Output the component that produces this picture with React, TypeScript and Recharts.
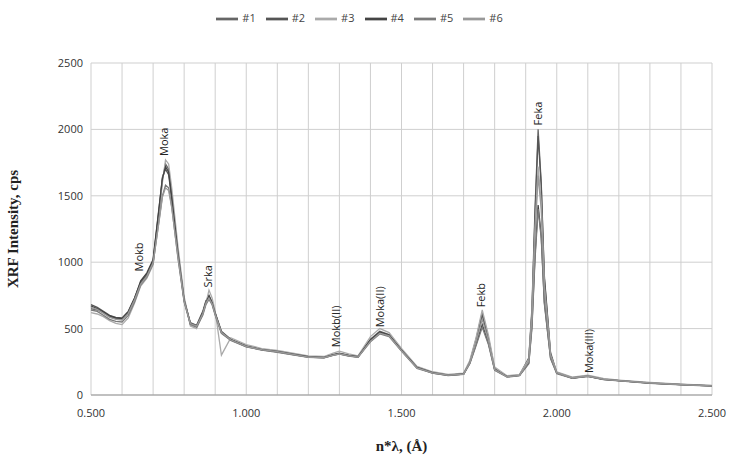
import { LineChart, Line, XAxis, YAxis, CartesianGrid, Legend, ReferenceDot, Label } from 'recharts';

const wavelength = [0.50, 0.52, 0.54, 0.56, 0.58, 0.60, 0.62, 0.64, 0.66, 0.68, 0.70, 0.72, 0.73, 0.74, 0.75, 0.76, 0.78, 0.80, 0.82, 0.84, 0.86, 0.87, 0.88, 0.89, 0.90, 0.92, 0.95, 1.00, 1.05, 1.10, 1.15, 1.20, 1.25, 1.28, 1.30, 1.33, 1.36, 1.40, 1.43, 1.46, 1.50, 1.55, 1.60, 1.65, 1.70, 1.72, 1.74, 1.76, 1.78, 1.80, 1.84, 1.88, 1.91, 1.92, 1.93, 1.94, 1.95, 1.96, 1.98, 2.00, 2.05, 2.10, 2.15, 2.20, 2.30, 2.40, 2.50];

const s1 = [650, 640, 620, 590, 575, 570, 620, 720, 840, 900, 1000, 1400, 1620, 1740, 1700, 1500, 1080, 720, 540, 520, 620, 700, 750, 700, 620, 480, 420, 370, 345, 330, 310, 290, 285, 305, 315, 300, 290, 420, 480, 455, 340, 210, 170, 150, 160, 250, 420, 620, 430, 200, 140, 150, 280, 650, 1400, 2000, 1600, 900, 320, 170, 130, 145, 120, 110, 92, 80, 70];
const s2 = [680, 660, 630, 600, 585, 580, 630, 730, 850, 910, 1010, 1420, 1640, 1700, 1660, 1480, 1060, 710, 545, 525, 630, 710, 740, 690, 610, 470, 415, 365, 340, 325, 305, 285, 280, 300, 310, 295, 285, 410, 470, 450, 335, 205, 165, 148, 158, 245, 410, 600, 420, 195, 138, 148, 270, 620, 1350, 1950, 1580, 880, 310, 165, 128, 140, 118, 108, 90, 78, 68];
const s3 = [620, 610, 590, 560, 540, 530, 580, 690, 820, 880, 980, 1380, 1600, 1770, 1740, 1560, 1120, 740, 520, 500, 610, 690, 790, 730, 630, 300, 430, 380, 350, 335, 315, 295, 290, 315, 330, 310, 295, 440, 500, 470, 350, 215, 175, 155, 165, 260, 430, 640, 450, 210, 145, 155, 270, 600, 1250, 1720, 1450, 820, 300, 175, 135, 150, 125, 112, 95, 82, 72];
const s4 = [670, 650, 625, 595, 580, 575, 625, 725, 860, 920, 1020, 1430, 1630, 1720, 1680, 1490, 1070, 715, 535, 515, 615, 695, 745, 695, 615, 475, 418, 368, 342, 328, 308, 288, 283, 302, 312, 298, 288, 415, 475, 452, 338, 208, 168, 150, 158, 240, 380, 530, 390, 190, 138, 148, 240, 520, 1050, 1430, 1200, 700, 280, 165, 128, 142, 118, 108, 90, 78, 68];
const s5 = [640, 630, 600, 570, 555, 550, 600, 700, 830, 890, 990, 1330, 1500, 1580, 1560, 1420, 1030, 700, 530, 510, 600, 680, 720, 680, 600, 465, 410, 362, 338, 322, 302, 283, 280, 298, 308, 293, 283, 400, 460, 440, 330, 200, 165, 147, 155, 235, 370, 510, 380, 185, 135, 145, 235, 500, 1020, 1400, 1180, 690, 275, 160, 125, 140, 116, 106, 88, 77, 67];
const s6 = [660, 645, 615, 585, 570, 565, 615, 715, 835, 895, 995, 1320, 1490, 1560, 1540, 1410, 1040, 705, 538, 518, 612, 690, 730, 688, 608, 472, 416, 366, 341, 326, 306, 286, 282, 300, 310, 296, 286, 405, 465, 445, 333, 204, 167, 149, 157, 242, 400, 570, 410, 192, 137, 147, 255, 580, 1200, 1650, 1400, 800, 300, 168, 130, 143, 119, 109, 91, 79, 69];

const seriesNames = ['#1', '#2', '#3', '#4', '#5', '#6'];
const seriesValues = [s1, s2, s3, s4, s5, s6];
const seriesColors = ['#666666', '#555555', '#aaaaaa', '#444444', '#7a7a7a', '#999999'];

const xTicks = [0.5, 0.6, 0.7, 0.8, 0.9, 1.0, 1.1, 1.2, 1.3, 1.4, 1.5, 1.6, 1.7, 1.8, 1.9, 2.0, 2.1, 2.2, 2.3, 2.4, 2.5];
const yTicks = [0, 500, 1000, 1500, 2000, 2500];

const peakLabels = [
  { name: 'Mokb', x: 0.655, y: 930 },
  { name: 'Moka', x: 0.735, y: 1800 },
  { name: 'Srka', x: 0.878, y: 810 },
  { name: 'Mokb(II)', x: 1.29, y: 360 },
  { name: 'Moka(II)', x: 1.43, y: 510 },
  { name: 'Fekb', x: 1.755, y: 660 },
  { name: 'Feka', x: 1.94, y: 2030 },
  { name: 'Moka(III)', x: 2.105, y: 165 },
];

const data = wavelength.map((x, i) => {
  const row: Record<string, number> = { x };
  seriesNames.forEach((n, k) => { row[n] = seriesValues[k][i]; });
  return row;
});

const VText = (props: any) => {
  const { viewBox, value } = props;
  const cx = viewBox.x + (viewBox.width || 0) / 2;
  const cy = viewBox.y + (viewBox.height || 0) / 2;
  return (
    <text x={cx + 4} y={cy} transform={`rotate(-90 ${cx + 4} ${cy})`} fontSize={11} fill="#222" fontFamily="Open Sans, sans-serif">
      {value}
    </text>
  );
};

export default function App() {
  return (
    <div style={{ position: 'absolute', left: 0, top: 0, background: '#fff' }}>
      <LineChart width={729} height={457} data={data} margin={{ top: 41, right: 17, bottom: 0, left: 31 }}>
        <CartesianGrid stroke="#cfcfcf" verticalValues={xTicks} horizontalValues={yTicks} />
        <XAxis
          dataKey="x"
          type="number"
          domain={[0.5, 2.5]}
          ticks={xTicks}
          interval={0}
          tickLine={false}
          axisLine={{ stroke: '#999' }}
          tick={{ fontSize: 11, fill: '#333', fontFamily: 'Open Sans, sans-serif', dy: 6 }}
          tickFormatter={(v: number) => (Math.round(v * 10) % 5 === 0 ? v.toFixed(3) : '')}
          height={62}
        >
          <Label value="n*λ, (Å)" position="insideBottom" offset={6} style={{ fontFamily: 'Liberation Serif, serif', fontWeight: 'bold', fontSize: 15, fill: '#222' }} />
        </XAxis>
        <YAxis
          type="number"
          domain={[0, 2500]}
          ticks={yTicks}
          tickLine={false}
          axisLine={false}
          width={60}
          tick={{ fontSize: 11, fill: '#333', fontFamily: 'Open Sans, sans-serif' }}
        >
          <Label value="XRF Intensity, cps" angle={-90} position="insideLeft" offset={-18} style={{ textAnchor: 'middle', fontFamily: 'Liberation Serif, serif', fontWeight: 'bold', fontSize: 15, fill: '#222' }} />
        </YAxis>
        <Legend
          verticalAlign="top"
          align="center"
          iconType="plainline"
          iconSize={22}
          wrapperStyle={{ top: 8, left: 0, width: 729, fontSize: 11, fontFamily: 'Open Sans, sans-serif' }}
          formatter={(v: string) => <span style={{ color: '#444' }}>{v}</span>}
        />
        {seriesNames.map((n, k) => (
          <Line key={n} dataKey={n} stroke={seriesColors[k]} strokeWidth={1.3} dot={false} type="linear" isAnimationActive={false} />
        ))}
        {peakLabels.map((p) => (
          <ReferenceDot key={p.name} x={p.x} y={p.y} r={0} stroke="none" label={<VText value={p.name} />} />
        ))}
      </LineChart>
    </div>
  );
}
